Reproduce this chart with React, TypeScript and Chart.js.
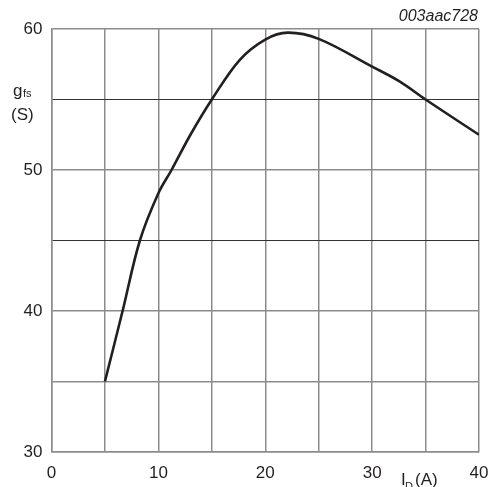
import React, { useEffect, useRef } from "react";
import { Chart, registerables } from "chart.js";

Chart.register(...registerables);

const currentA = [5, 6.65, 8.27, 10, 11.23, 13, 15, 17.6, 20, 22.1, 25, 30, 32.6, 35, 40];
const gfsS = [35, 40, 45, 48.35, 50, 52.5, 55, 57.8, 59.25, 59.74, 59.3, 57.33, 56.27, 55.0, 52.5];
const xTickLabels = ["0", "10", "20", "30", "40"];
const yTickLabels = ["30", "40", "50", "60"];

const FONT = "'Liberation Sans', Arial, Helvetica, sans-serif";

const textPlugin = {
  id: "texts",
  afterDraw(chart: any) {
    const ctx = chart.ctx;
    ctx.save();
    ctx.fillStyle = "#231f20";
    ctx.textBaseline = "alphabetic";
    // y title
    ctx.textAlign = "left";
    ctx.font = `17px ${FONT}`;
    ctx.fillText("g", 13, 96);
    ctx.font = `11px ${FONT}`;
    ctx.fillText("fs", 23, 97);
    ctx.font = `17px ${FONT}`;
    ctx.fillText("(S)", 11, 120);
    // x title
    ctx.font = `17px ${FONT}`;
    ctx.fillText("I", 401, 485);
    ctx.font = `11px ${FONT}`;
    ctx.fillText("D", 405, 490);
    ctx.font = `17px ${FONT}`;
    ctx.fillText("(A)", 415, 485);
    // code
    ctx.textAlign = "right";
    ctx.font = `italic 16px ${FONT}`;
    ctx.fillText("003aac728", 478, 21);
    ctx.restore();
  },
};

export default function App() {
  const ref = useRef<HTMLCanvasElement>(null);
  useEffect(() => {
    if (!ref.current) return;
    const chart = new Chart(ref.current, {
      type: "line",
      data: {
        datasets: [
          {
            data: currentA.map((x, i) => ({ x, y: gfsS[i] })),
            borderColor: "#231f20",
            borderWidth: 2.6,
            pointRadius: 0,
            tension: 0.35,
            fill: false,
          },
        ],
      },
      options: {
        responsive: false,
        animation: false,
        events: [],
        layout: { padding: { left: 0, top: 29, right: 15, bottom: 0 } },
        plugins: { legend: { display: false }, tooltip: { enabled: false } },
        scales: {
          x: {
            type: "linear",
            min: 0,
            max: 40,
            afterFit: (s: any) => {
              s.height = 35;
              s.paddingLeft = 0;
              s.paddingRight = 0;
            },
            afterBuildTicks: (s: any) => {
              s.ticks = [0, 5, 10, 15, 20, 25, 30, 35, 40].map((v) => ({ value: v }));
            },
            ticks: {
              autoSkip: false,
              maxRotation: 0,
              padding: 11,
              color: "#231f20",
              font: { family: FONT, size: 17 },
              callback: (v: any) => (xTickLabels.includes(String(v)) ? String(v) : ""),
            },
            grid: { color: "#8c8c8c", lineWidth: 1.5, drawTicks: false },
            border: { color: "#8c8c8c", width: 1.5 },
          },
          y: {
            type: "linear",
            min: 30,
            max: 60,
            afterFit: (s: any) => {
              s.width = 51.5;
              s.paddingTop = 0;
              s.paddingBottom = 0;
            },
            afterBuildTicks: (s: any) => {
              s.ticks = [30, 35, 40, 45, 50, 55, 60].map((v) => ({ value: v }));
            },
            ticks: {
              autoSkip: false,
              padding: 9,
              color: "#231f20",
              font: { family: FONT, size: 17 },
              callback: (v: any) => (yTickLabels.includes(String(v)) ? String(v) : ""),
            },
            grid: {
              color: (c: any) => (c.tick && (c.tick.value === 45 || c.tick.value === 55) ? "#333333" : "#8c8c8c"),
              lineWidth: (c: any) => (c.tick && (c.tick.value === 45 || c.tick.value === 55) ? 1 : 1.5),
              drawTicks: false,
            },
            border: { color: "#8c8c8c", width: 1.5 },
          },
        },
      },
      plugins: [textPlugin],
    } as any);
    return () => chart.destroy();
  }, []);
  return (
    <div style={{ position: "absolute", left: 0, top: 0, width: 494, height: 487, background: "#fff" }}>
      <canvas ref={ref} width={494} height={487} style={{ display: "block" }} />
    </div>
  );
}
